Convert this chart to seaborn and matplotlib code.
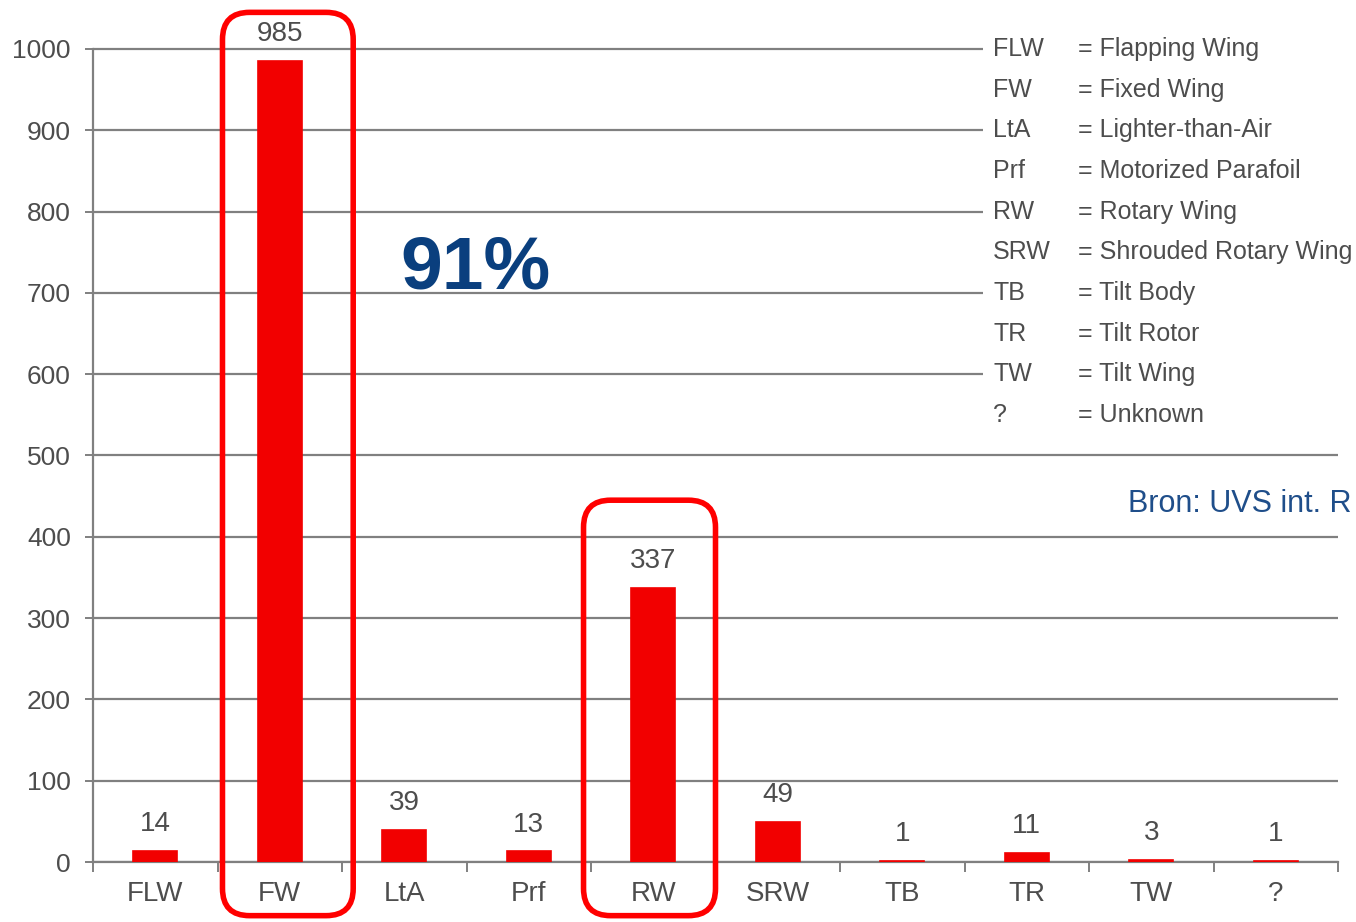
import pandas as pd
import seaborn as sns
import matplotlib.pyplot as plt
from matplotlib.patches import FancyBboxPatch, Rectangle

# chart data
categories = ["FLW", "FW", "LtA", "Prf", "RW", "SRW", "TB", "TR", "TW", "?"]
counts = [14, 985, 39, 13, 337, 49, 1, 11, 3, 1]
legend_names = ["Flapping Wing", "Fixed Wing", "Lighter-than-Air", "Motorized Parafoil",
                "Rotary Wing", "Shrouded Rotary Wing", "Tilt Body", "Tilt Rotor",
                "Tilt Wing", "Unknown"]
y_ticks = [0, 100, 200, 300, 400, 500, 600, 700, 800, 900, 1000]
share_text = "91%"
source_text = "Bron: UVS int. R"

df = pd.DataFrame({"type": categories, "count": counts})

sns.set_theme(style="white")
plt.rcParams["font.family"] = ["Liberation Sans", "DejaVu Sans"]

gray_text = "#4d4d4d"
grid_gray = "#808080"
red = "#f20000"
navy = "#0a3f7e"

fig = plt.figure(figsize=(13.56, 9.22), dpi=100)
ax = fig.add_axes([93 / 1356, 60 / 922, 1245 / 1356, 853.7 / 922])

sns.barplot(data=df, x="type", y="count", color=red, saturation=1, width=0.35,
            edgecolor=red, linewidth=1.2, ax=ax, zorder=3)
ax.set_xlim(-0.5, 9.5)
ax.set_ylim(0, 1050)
ax.set_xlabel("")
ax.set_ylabel("")

# grid + axes styling
ax.set_yticks(y_ticks)
ax.grid(axis="y", color=grid_gray, lw=1.6)
ax.set_axisbelow(True)
for s in ["top", "right"]:
    ax.spines[s].set_visible(False)
ax.spines["left"].set_bounds(0, 1000)
ax.spines["left"].set_color(grid_gray)
ax.spines["left"].set_linewidth(1.6)
ax.spines["bottom"].set_color(grid_gray)
ax.spines["bottom"].set_linewidth(1.6)
ax.tick_params(axis="y", length=6, width=1.4, color=grid_gray, labelsize=19,
               labelcolor=gray_text, pad=10, left=True)
ax.set_xticks([i - 0.5 for i in range(len(categories) + 1)], minor=True)
ax.tick_params(axis="x", which="major", length=0, labelsize=20,
               labelcolor=gray_text, pad=14)
ax.tick_params(axis="x", which="minor", length=7, width=1.4, color=grid_gray,
               bottom=True)

# value labels
ax.bar_label(ax.containers[0], padding=10, fontsize=20, color=gray_text)

# legend block with white background hiding the grid
ax.add_patch(Rectangle((6.65, 530), 4, 600, facecolor="white", edgecolor="none",
                       zorder=1, clip_on=False))
for i, (abbr, name) in enumerate(zip(categories, legend_names)):
    y = 1000 - 50 * i
    ax.text(6.73, y, abbr, fontsize=18, color=gray_text, va="center", zorder=4)
    ax.text(7.41, y, "= " + name, fontsize=18, color=gray_text, va="center", zorder=4)

ax.text(1.97, 705, share_text, fontsize=54, fontweight="bold", color=navy,
        va="baseline", ha="left", zorder=4)
ax.text(7.81, 440, source_text, fontsize=22, color="#1f4e8a", va="center",
        ha="left", zorder=4)

# red highlight frames around FW and RW
def to_fig(x, y):
    return fig.transFigure.inverted().transform(ax.transData.transform((x, y)))

frames = [(1 - 0.46, 1 + 0.59, -66, 1045), (4 - 0.56, 4 + 0.5, -66, 445)]
for x0, x1, y0, y1 in frames:
    (fx0, fy0), (fx1, fy1) = to_fig(x0, y0), to_fig(x1, y1)
    box = FancyBboxPatch((fx0, fy0), fx1 - fx0, fy1 - fy0,
                         boxstyle="round,pad=0,rounding_size=0.02",
                         mutation_aspect=1356 / 922, transform=fig.transFigure,
                         fill=False, edgecolor="#ff0000", linewidth=4, zorder=5)
    fig.add_artist(box)

plt.savefig("out.png", dpi=100)
